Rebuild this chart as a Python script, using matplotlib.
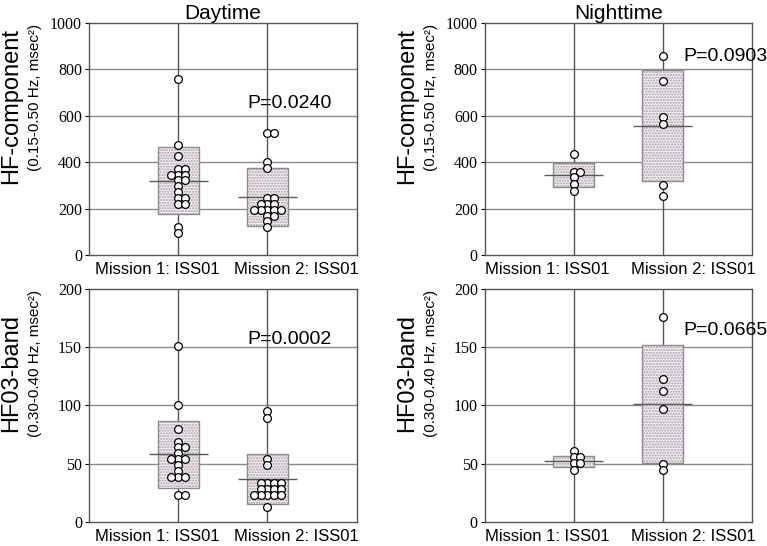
import matplotlib
matplotlib.use("Agg")
import matplotlib.pyplot as plt

# ------------------------
# Data
# ------------------------
categories = ["Mission 1: ISS01", "Mission 2: ISS01"]

day_hf_m1 = [758, 475, 425, 372, 372, 346, 346, 346, 322, 322, 296, 270, 246, 246, 218, 218, 121, 95]
day_hf_m2 = [527, 527, 399, 375, 246, 246, 221, 221, 221, 195, 195, 195, 195, 195, 169, 169, 145, 121]
night_hf_m1 = [436, 358, 358, 334, 306, 277]
night_hf_m2 = [856, 750, 595, 566, 303, 253]

day_hf03_m1 = [151, 100, 79.5, 69, 64, 64, 59, 54, 54, 54, 49, 44, 39, 39, 39, 23, 23]
day_hf03_m2 = [95, 89, 54, 49, 33.5, 33.5, 33.5, 33.5, 28, 28, 28, 28, 23, 23, 23, 23, 23, 12.6]
night_hf03_m1 = [60.5, 55.5, 55.5, 50.5, 50.5, 44.6]
night_hf03_m2 = [176, 123, 112.5, 97, 50, 44.5]

# mean and SD (box = mean +/- SD)
day_hf_mean = [320, 250]
day_hf_sd = [145, 123]
night_hf_mean = [345, 557]
night_hf_sd = [50, 239]
day_hf03_mean = [58, 36.6]
day_hf03_sd = [29, 21.6]
night_hf03_mean = [52, 101]
night_hf03_sd = [5, 50.5]

p_values = ["P=0.0240", "P=0.0903", "P=0.0002", "P=0.0665"]
p_pos = [(1.77, 652), (2.23, 855), (1.77, 156.5), (2.23, 164)]

# ------------------------
# Style
# ------------------------
SANS = "Liberation Sans"
SERIF = "Liberation Serif"
plt.rcParams["font.family"] = SERIF   # tick numbers are serif
GRID_H = "#8a8a8a"
GRID_V = "#555555"
STEP = 0.076  # swarm spacing in category units


def swarm_offsets(values):
    # stack equal values side by side: centre, right, left, right2, left2 ...
    order = [0, 1, -1, 2, -2, 3, -3]
    seen = {}
    offs = []
    for v in values:
        k = seen.get(v, 0)
        offs.append(order[k] * STEP)
        seen[v] = k + 1
    return offs


def draw_panel(ax, groups, means, sds, ymax, ystep, ptext, ppos, label_pos):
    xs = [1, 2]
    ax.set_xlim(0, 3)
    ax.set_ylim(0, ymax)
    ax.set_yticks(range(0, ymax + 1, ystep))
    for y in range(ystep, ymax, ystep):
        ax.axhline(y, color=GRID_H, lw=1, zorder=0)
    for x in xs:
        ax.axvline(x, color=GRID_V, lw=1, zorder=1)

    bottoms = [m - s for m, s in zip(means, sds)]
    heights = [2 * s for s in sds]
    ax.bar(xs, heights, bottom=bottoms, width=0.46, color="#f3ecf2",
           edgecolor="none", zorder=2)
    ax.bar(xs, heights, bottom=bottoms, width=0.46, color="none",
           edgecolor="#a8a0a8", hatch="......", lw=0, zorder=2)
    ax.bar(xs, heights, bottom=bottoms, width=0.46, color="none",
           edgecolor="#8c8c8c", lw=1, zorder=3)
    ax.hlines(means, [x - 0.33 for x in xs], [x + 0.33 for x in xs],
              color="#5a5a5a", lw=1, zorder=4)

    for x, vals in zip(xs, groups):
        offs = swarm_offsets(vals)
        ax.plot([x + o for o in offs], vals, "o", ms=5.6, mfc="white",
                mec="black", mew=0.9, ls="none", zorder=5)

    ax.text(ppos[0], ppos[1], ptext, fontsize=14, family=SANS,
            ha="left", va="center", zorder=6)

    ax.set_xticks(label_pos)
    ax.set_xticklabels(categories, family=SANS, fontsize=12)
    ax.tick_params(axis="x", length=0, pad=5)
    ax.tick_params(axis="y", length=3, width=0.8, direction="out", pad=2,
                   labelsize=11.5)
    for sp in ax.spines.values():
        sp.set_color("#555555")
        sp.set_linewidth(1)


def ylabels(ax, main, sub):
    ax.text(-0.29, 0.64, main, transform=ax.transAxes, rotation=90,
            fontsize=17, family=SANS, ha="center", va="center")
    ax.text(-0.2, 0.68, sub, transform=ax.transAxes, rotation=90,
            fontsize=11, family=SANS, ha="center", va="center")


fig = plt.figure(figsize=(7.67, 5.46), dpi=100)
ax_tl = fig.add_axes([0.116, 0.533, 0.349, 0.425])
ax_tr = fig.add_axes([0.632, 0.533, 0.348, 0.425])
ax_bl = fig.add_axes([0.116, 0.044, 0.349, 0.427])
ax_br = fig.add_axes([0.632, 0.044, 0.348, 0.427])

draw_panel(ax_tl, [day_hf_m1, day_hf_m2], day_hf_mean, day_hf_sd, 1000, 200,
           p_values[0], p_pos[0], [0.77, 2.33])
draw_panel(ax_tr, [night_hf_m1, night_hf_m2], night_hf_mean, night_hf_sd, 1000, 200,
           p_values[1], p_pos[1], [0.70, 2.34])
draw_panel(ax_bl, [day_hf03_m1, day_hf03_m2], day_hf03_mean, day_hf03_sd, 200, 50,
           p_values[2], p_pos[2], [0.77, 2.33])
draw_panel(ax_br, [night_hf03_m1, night_hf03_m2], night_hf03_mean, night_hf03_sd, 200, 50,
           p_values[3], p_pos[3], [0.70, 2.34])

ax_tl.set_title("Daytime", family=SANS, fontsize=15, pad=2)
ax_tr.set_title("Nighttime", family=SANS, fontsize=15, pad=2)

for ax in (ax_tl, ax_tr):
    ylabels(ax, "HF-component", "(0.15-0.50 Hz, msec²)")
for ax in (ax_bl, ax_br):
    ylabels(ax, "HF03-band", "(0.30-0.40 Hz, msec²)")

fig.savefig("out.png", dpi=100)
